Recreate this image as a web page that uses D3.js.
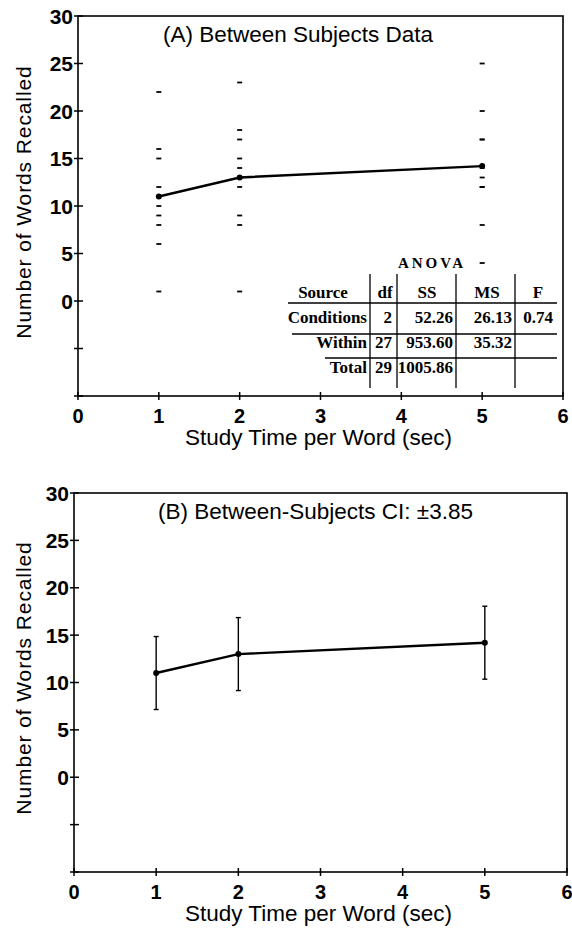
<!DOCTYPE html>
<html lang="en">
  <head>
    <meta charset="utf-8">
    <title>Between Subjects Data</title>
    <script src="https://d3js.org/d3.v7.min.js"></script>
    <style>
      body { margin: 0; background: #fff; }
      text { font-family: "Liberation Sans", Arial, sans-serif; fill: #000; }
      .tbl text { font-family: "Liberation Serif", "Times New Roman", serif; font-weight: bold; font-size: 17px; }
    </style>
  </head>
  <body>
    <script>
      // study time conditions and recall data (10 subjects per condition)
      var studyTimes = [1, 2, 5]
      var recall1 = [10, 6, 11, 22, 16, 15, 1, 12, 9, 8]
      var recall2 = [13, 8, 14, 23, 18, 17, 1, 15, 12, 9]
      var recall5 = [13, 8, 14, 25, 20, 17, 4, 17, 12, 12]
      var means = [11.0, 13.0, 14.2]
      var ciHalf = 3.85

      var xTicks = [0, 1, 2, 3, 4, 5, 6]
      var yTicks = [-10, -5, 0, 5, 10, 15, 20, 25, 30]
      var yLabels = [0, 5, 10, 15, 20, 25, 30]

      // ANOVA table
      var anovaHead = ["Source", "df", "SS", "MS", "F"]
      var anovaSource = ["Conditions", "Within", "Total"]
      var anovaDf = ["2", "27", "29"]
      var anovaSS = ["52.26", "953.60", "1005.86"]
      var anovaMS = ["26.13", "35.32", ""]
      var anovaF = ["0.74", "", ""]

      var width = 572, height = 934

      var svg = d3.select("body")
        .append("svg")
          .attr("width", width)
          .attr("height", height)

      function panel(box, title) {
        var x = d3.scaleLinear().domain([0, 6]).range([box.left, box.right])
        var y = d3.scaleLinear().domain([-10, 30]).range([box.bottom, box.top])
        var g = svg.append("g")

        // frame
        g.append("rect")
          .attr("x", box.left).attr("y", box.top)
          .attr("width", box.right - box.left).attr("height", box.bottom - box.top)
          .attr("fill", "none").attr("stroke", "#000").attr("stroke-width", 1.6)

        // y ticks cross the axis
        g.selectAll(".yt").data(yTicks).enter().append("line")
          .attr("x1", box.left - 4).attr("x2", box.left + 5)
          .attr("y1", function(d){ return y(d) }).attr("y2", function(d){ return y(d) })
          .attr("stroke", "#000").attr("stroke-width", 1.5)
        g.selectAll(".yl").data(yLabels).enter().append("text")
          .attr("x", box.left - 5).attr("y", function(d){ return y(d) })
          .attr("dy", "0.36em")
          .attr("text-anchor", "end")
          .style("font-size", "21px").style("font-weight", "bold")
          .text(function(d){ return d })

        // x ticks
        g.selectAll(".xt").data(xTicks).enter().append("line")
          .attr("x1", function(d){ return x(d) }).attr("x2", function(d){ return x(d) })
          .attr("y1", box.bottom - 4).attr("y2", box.bottom + 4)
          .attr("stroke", "#000").attr("stroke-width", 1.5)
        g.selectAll(".xl").data(xTicks).enter().append("text")
          .attr("x", function(d){ return x(d) }).attr("y", box.bottom + 27)
          .attr("text-anchor", "middle")
          .style("font-size", "20px").style("font-weight", "bold")
          .text(function(d){ return d })

        // axis titles
        g.append("text")
          .attr("x", (box.left + box.right) / 2 - 2).attr("y", box.bottom + 49)
          .attr("text-anchor", "middle")
          .style("font-size", "22.5px")
          .text("Study Time per Word (sec)")
        g.append("text")
          .attr("transform", "translate(" + 31 + "," + box.ycenter + ") rotate(-90)")
          .attr("text-anchor", "middle")
          .style("font-size", "21px")
          .style("letter-spacing", "0.9px")
          .text("Number of Words Recalled")

        g.append("text")
          .attr("x", box.titleX).attr("y", box.top + 26)
          .style("font-size", "22.5px")
          .text(title)

        return { g: g, x: x, y: y }
      }

      var meanLine = d3.line()

      // ---- Panel A
      var a = panel({left: 78, right: 563, top: 16, bottom: 396, ycenter: 202, titleX: 163}, "(A) Between Subjects Data")

      var raw = [recall1, recall2, recall5]
      raw.forEach(function(vals, i) {
        a.g.selectAll(null).data(vals).enter().append("line")
          .attr("x1", a.x(studyTimes[i]) - 2.5).attr("x2", a.x(studyTimes[i]) + 2.5)
          .attr("y1", function(d){ return a.y(d) }).attr("y2", function(d){ return a.y(d) })
          .attr("stroke", "#000").attr("stroke-width", 1.8)
      })

      a.g.append("path")
        .attr("d", meanLine.x(function(d, i){ return a.x(studyTimes[i]) }).y(function(d){ return a.y(d) })(means))
        .attr("fill", "none").attr("stroke", "#000").attr("stroke-width", 2.4)
      a.g.selectAll(null).data(means).enter().append("circle")
        .attr("cx", function(d, i){ return a.x(studyTimes[i]) })
        .attr("cy", function(d){ return a.y(d) })
        .attr("r", 3)

      // ANOVA table
      var t = a.g.append("g").attr("class", "tbl")
      t.append("text").attr("x", 432).attr("y", 268).attr("text-anchor", "middle")
        .style("font-size", "15px").style("letter-spacing", "3px").text("ANOVA")
      var colX = [323, 385, 427, 487, 538]
      t.selectAll(null).data(anovaHead).enter().append("text")
        .attr("x", function(d, i){ return colX[i] }).attr("y", 298)
        .attr("text-anchor", "middle").text(function(d){ return d })
      var rowY = [323, 348, 373]
      var cols = [anovaSource, anovaDf, anovaSS, anovaMS, anovaF]
      var colRight = [367, 392, 453, 512, 553]
      cols.forEach(function(col, c) {
        t.selectAll(null).data(col).enter().append("text")
          .attr("x", colRight[c]).attr("y", function(d, i){ return rowY[i] })
          .attr("text-anchor", "end").text(function(d){ return d })
      })
      var vLines = [370, 397, 456, 515]
      t.selectAll(null).data(vLines).enter().append("line")
        .attr("x1", function(d){ return d }).attr("x2", function(d){ return d })
        .attr("y1", 274).attr("y2", 388)
        .attr("stroke", "#000").attr("stroke-width", 1.3)
      var hLines = [[288, 303], [292, 334], [325, 358]]
      t.selectAll(null).data(hLines).enter().append("line")
        .attr("x1", function(d){ return d[0] }).attr("x2", 557)
        .attr("y1", function(d){ return d[1] }).attr("y2", function(d){ return d[1] })
        .attr("stroke", "#000").attr("stroke-width", 1.3)

      // ---- Panel B
      var b = panel({left: 74, right: 567, top: 493, bottom: 872, ycenter: 678, titleX: 158}, "(B) Between-Subjects CI: \u00b13.85")

      b.g.selectAll(null).data(means).enter().append("line")
        .attr("x1", function(d, i){ return b.x(studyTimes[i]) }).attr("x2", function(d, i){ return b.x(studyTimes[i]) })
        .attr("y1", function(d){ return b.y(d - ciHalf) }).attr("y2", function(d){ return b.y(d + ciHalf) })
        .attr("stroke", "#000").attr("stroke-width", 1.4)
      ;[-1, 1].forEach(function(s) {
        b.g.selectAll(null).data(means).enter().append("line")
          .attr("x1", function(d, i){ return b.x(studyTimes[i]) - 2.5 }).attr("x2", function(d, i){ return b.x(studyTimes[i]) + 2.5 })
          .attr("y1", function(d){ return b.y(d + s * ciHalf) }).attr("y2", function(d){ return b.y(d + s * ciHalf) })
          .attr("stroke", "#000").attr("stroke-width", 1.4)
      })
      b.g.append("path")
        .attr("d", meanLine.x(function(d, i){ return b.x(studyTimes[i]) }).y(function(d){ return b.y(d) })(means))
        .attr("fill", "none").attr("stroke", "#000").attr("stroke-width", 2.4)
      b.g.selectAll(null).data(means).enter().append("circle")
        .attr("cx", function(d, i){ return b.x(studyTimes[i]) })
        .attr("cy", function(d){ return b.y(d) })
        .attr("r", 3)
    </script>
  </body>
</html>
